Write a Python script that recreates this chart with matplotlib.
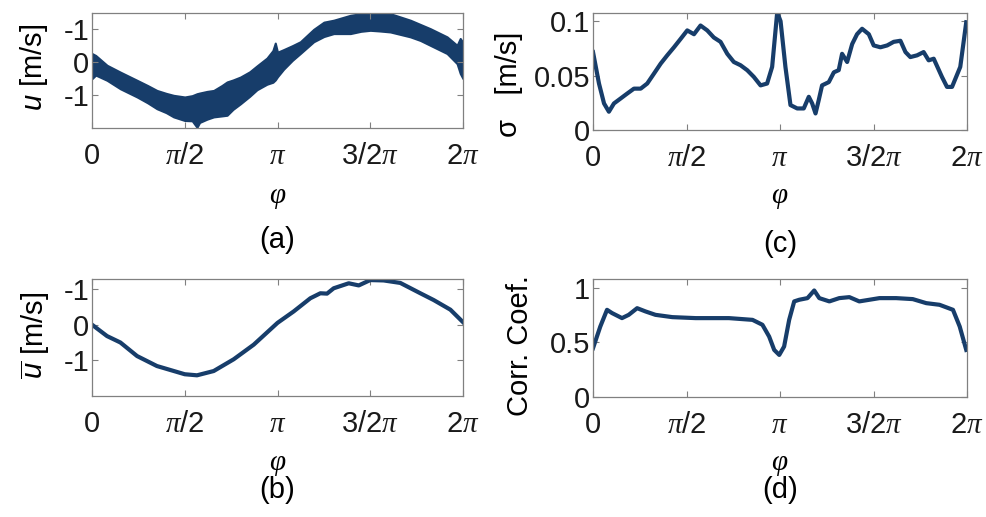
import numpy as np
import matplotlib
matplotlib.use("Agg")
import matplotlib.pyplot as plt

plt.rcParams['font.family'] = ['Liberation Sans', 'DejaVu Sans']
plt.rcParams['mathtext.fontset'] = 'custom'
plt.rcParams['mathtext.rm'] = 'Liberation Sans'
plt.rcParams['mathtext.it'] = 'Liberation Sans:italic'
plt.rcParams['mathtext.sf'] = 'Liberation Serif:italic'

# (a) raw velocity band: phase (in units of pi), lower / upper edge [m/s]
phi_a = [0.0, 0.02, 0.081, 0.153, 0.243, 0.30, 0.350, 0.40, 0.440, 0.5,
         0.54, 0.566, 0.58, 0.62, 0.656, 0.70, 0.728, 0.76, 0.800, 0.85,
         0.889, 0.943, 0.975, 0.988, 1.0, 1.033, 1.08, 1.123, 1.195, 1.25,
         1.303, 1.393, 1.45, 1.500, 1.55, 1.608, 1.716, 1.77, 1.824, 1.914,
         1.968, 1.985, 2.0]
u_low = [-0.51, -0.40, -0.56, -0.82, -1.07, -1.25, -1.43, -1.55, -1.68, -1.79,
         -1.80, -2.0, -1.85, -1.75, -1.68, -1.65, -1.63, -1.45, -1.28, -1.05,
         -0.85, -0.68, -0.62, -0.55, -0.45, -0.22, 0.05, 0.26, 0.62, 0.78,
         0.87, 0.87, 0.94, 0.97, 0.95, 0.92, 0.77, 0.66, 0.51, 0.26,
         -0.05, -0.35, -0.51]
u_high = [0.26, 0.20, -0.10, -0.31, -0.56, -0.72, -0.87, -0.96, -1.02, -1.07,
          -1.03, -0.97, -0.95, -0.90, -0.87, -0.72, -0.61, -0.55, -0.46, -0.30,
          -0.12, 0.12, 0.35, 0.58, 0.30, 0.38, 0.50, 0.62, 1.0, 1.22,
          1.28, 1.43, 1.48, 1.53, 1.52, 1.48, 1.28, 1.15, 1.02, 0.77,
          0.51, 0.72, 0.60]

# (b) phase-averaged velocity
phi_b = [0.0, 0.081, 0.153, 0.243, 0.350, 0.5, 0.566, 0.656, 0.764, 0.872,
         1.0, 1.087, 1.177, 1.231, 1.267, 1.303, 1.384, 1.438, 1.500, 1.572,
         1.662, 1.770, 1.842, 1.932, 2.0]
u_mean = [0.0, -0.32, -0.50, -0.88, -1.16, -1.39, -1.42, -1.30, -0.97, -0.56,
          0.05, 0.37, 0.74, 0.88, 0.87, 1.02, 1.16, 1.10, 1.25, 1.24,
          1.17, 0.88, 0.69, 0.42, 0.07]

# (c) standard deviation
phi_c = [0.0, 0.032, 0.059, 0.085, 0.112, 0.148, 0.183, 0.219, 0.255, 0.290,
         0.326, 0.362, 0.397, 0.433, 0.469, 0.504, 0.540, 0.575, 0.611, 0.646,
         0.682, 0.718, 0.753, 0.789, 0.825, 0.860, 0.896, 0.931, 0.958, 0.985,
         1.003, 1.029, 1.056, 1.092, 1.127, 1.154, 1.172, 1.190, 1.207, 1.225,
         1.261, 1.288, 1.314, 1.332, 1.359, 1.386, 1.412, 1.439, 1.475, 1.501,
         1.537, 1.573, 1.608, 1.644, 1.671, 1.697, 1.733, 1.768, 1.795, 1.822,
         1.866, 1.893, 1.920, 1.964, 1.996]
sigma = [0.0716, 0.0427, 0.0244, 0.0168, 0.0244, 0.029, 0.0335, 0.038, 0.038, 0.0427,
         0.0518, 0.061, 0.0686, 0.076, 0.0838, 0.0915, 0.088, 0.096, 0.0915, 0.085,
         0.081, 0.070, 0.0625, 0.0595, 0.0549, 0.0488, 0.041, 0.0427, 0.058, 0.108,
         0.100, 0.058, 0.0229, 0.0198, 0.0198, 0.0305, 0.0244, 0.0152, 0.0274, 0.041,
         0.044, 0.053, 0.055, 0.070, 0.0625, 0.079, 0.088, 0.093, 0.088, 0.0777,
         0.076, 0.0777, 0.081, 0.082, 0.0716, 0.067, 0.0686, 0.0716, 0.064, 0.0655,
         0.0488, 0.0396, 0.0396, 0.058, 0.099]

# (d) correlation coefficient
phi_d = [0.0, 0.039, 0.075, 0.102, 0.155, 0.191, 0.236, 0.281, 0.334, 0.424,
         0.549, 0.727, 0.853, 0.906, 0.942, 0.969, 0.996, 1.022, 1.049, 1.076,
         1.103, 1.147, 1.183, 1.210, 1.264, 1.317, 1.371, 1.424, 1.478, 1.532,
         1.621, 1.710, 1.782, 1.853, 1.925, 1.961, 1.996]
corr = [0.446, 0.645, 0.798, 0.768, 0.722, 0.752, 0.813, 0.783, 0.752, 0.731,
        0.722, 0.722, 0.706, 0.661, 0.553, 0.431, 0.385, 0.462, 0.706, 0.875,
        0.890, 0.905, 0.975, 0.905, 0.875, 0.905, 0.914, 0.875, 0.890, 0.905,
        0.905, 0.896, 0.859, 0.844, 0.798, 0.645, 0.431]

xtick_pos = [0, 0.5, 1.0, 1.5, 2.0]
xtick_labels = ['0', r'$\mathsf{\pi}$/2', r'$\mathsf{\pi}$', r'3/2$\mathsf{\pi}$', r'2$\mathsf{\pi}$']

color = '#173d6a'
grey = '#808080'
fs = 21
W, H = 986, 517


def style(ax, ylim, yticks, ylabels):
    ax.set_xlim(0, 2 * np.pi)
    ax.set_ylim(*ylim)
    ax.set_xticks([p * np.pi for p in xtick_pos])
    ax.set_xticklabels(xtick_labels)
    ax.set_yticks(yticks)
    ax.set_yticklabels(ylabels)
    ax.tick_params(direction='in', length=4, width=0.8, color=grey,
                   top=True, right=True, labelsize=fs, labelcolor='#1a1a1a')
    ax.tick_params(axis='x', pad=10)
    ax.tick_params(axis='y', pad=2)
    for s in ax.spines.values():
        s.set_color(grey)
        s.set_linewidth(0.9)


def box(l, t, r, b):
    return [l / W, 1 - b / H, (r - l) / W, (b - t) / H]


fig = plt.figure(figsize=(W / 100, H / 100), dpi=100)

ax_a = fig.add_axes(box(92, 13, 463, 128))
ax_b = fig.add_axes(box(92, 279, 463, 396))
ax_c = fig.add_axes(box(593, 13, 967, 130))
ax_d = fig.add_axes(box(593, 279, 967, 397))

ax_a.fill_between(np.array(phi_a) * np.pi, u_low, u_high, color=color, lw=1.5,
                  edgecolor=color)
style(ax_a, (-2.02, 1.5), [-1, 0, 1], ['-1', '0', '-1'])

ax_b.plot(np.array(phi_b) * np.pi, u_mean, color=color, lw=3)
style(ax_b, (-2.0, 1.28), [-1, 0, 1], ['-1', '0', '-1'])

ax_c.plot(np.array(phi_c) * np.pi, sigma, color=color, lw=3)
style(ax_c, (0, 0.1075), [0, 0.05, 0.1], ['0', '0.05', '0.1'])

ax_d.plot(np.array(phi_d) * np.pi, corr, color=color, lw=3)
style(ax_d, (0, 1.08), [0, 0.5, 1], ['0', '0.5', '1'])

# axis labels
fig.text(34 / W, 1 - 67 / H, r'$u$ [m/s]', rotation=90, ha='center', va='center', fontsize=fs)
fig.text(35 / W, 1 - 335 / H, r'$\overline{u}$ [m/s]', rotation=90, ha='center', va='center', fontsize=fs)
fig.text(509 / W, 1 - 84 / H, '\u03c3   [m/s]', rotation=90, ha='center', va='center', fontsize=fs)
fig.text(520 / W, 1 - 346 / H, 'Corr. Coef.', rotation=90, ha='center', va='center', fontsize=fs)

phi_sym = r'$\mathsf{\varphi}$'
for ax, ty, tag, tagy in [(ax_a, 197, '(a)', 240), (ax_c, 197, '(c)', 244),
                          (ax_b, 464, '(b)', 490), (ax_d, 464, '(d)', 490)]:
    pos = ax.get_position()
    cx = pos.x0 + pos.width / 2
    fig.text(cx, 1 - ty / H, phi_sym, ha='center', va='center', fontsize=fs)
    fig.text(cx, 1 - tagy / H, tag, ha='center', va='center', fontsize=fs)

fig.savefig('out.png', dpi=100)
